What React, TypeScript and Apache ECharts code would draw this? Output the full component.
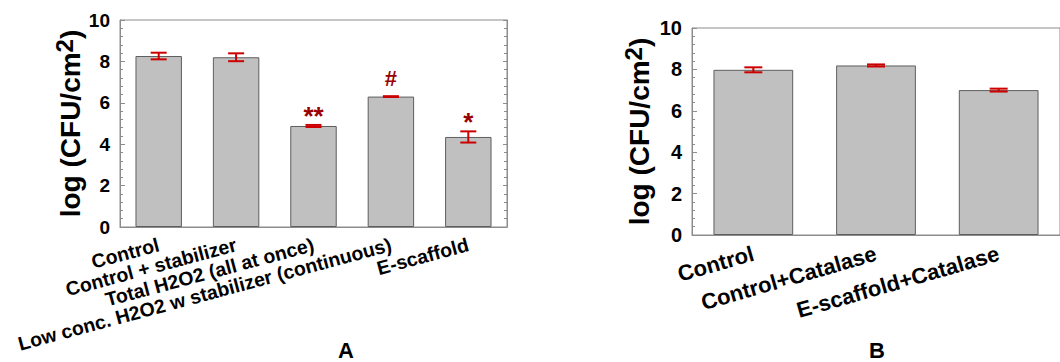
import React, { useEffect, useRef } from "react";
import * as echarts from "echarts";

const catsA = [
  "Control",
  "Control + stabilizer",
  "Total H2O2 (all at once)",
  "Low conc. H2O2 w stabilizer (continuous)",
  "E-scaffold",
];
const valsA = [8.26, 8.2, 4.88, 6.3, 4.35];
const errA = [0.16, 0.19, 0.05, 0.02, 0.27];
const marksA = ["", "", "**", "#", "*"];

const catsB = ["Control", "Control+Catalase", "E-scaffold+Catalase"];
const valsB = [7.98, 8.19, 7.0];
const errB = [0.12, 0.05, 0.07];
const marksB = ["", "", ""];

const yMin = 0;
const yMax = 10;
const yStep = 2;
const panelLetters = ["A", "B"];

const FONT = "'Liberation Sans', Arial, sans-serif";
const AXIS_GRAY = "#8c8c8c";
const BAR_FILL = "#c0c0c0";
const BAR_EDGE = "#5e5e5e";
const ERR_RED = "#cc0000";
const MARK_RED = "#9b0000";

function errSeries(xi: number, yi: number, vals: number[], errs: number[], marks: string[], capW: number, markSizes: Record<string, number>) {
  return {
    type: "custom",
    xAxisIndex: xi,
    yAxisIndex: yi,
    z: 10,
    data: vals.map((v, i) => [i, v, errs[i]]),
    renderItem: (params: any, api: any) => {
      const i = api.value(0);
      const v = api.value(1);
      const e = api.value(2);
      const top = api.coord([i, v + e]);
      const bot = api.coord([i, v - e]);
      const h = capW / 2;
      const st = { stroke: ERR_RED, lineWidth: 2 };
      const children: any[] = [
        { type: "line", shape: { x1: top[0], y1: top[1], x2: bot[0], y2: bot[1] }, style: st },
        { type: "line", shape: { x1: top[0] - h, y1: top[1], x2: top[0] + h, y2: top[1] }, style: st },
        { type: "line", shape: { x1: bot[0] - h, y1: bot[1], x2: bot[0] + h, y2: bot[1] }, style: st },
      ];
      const m = marks[params.dataIndex];
      if (m) {
        const fs = markSizes[m] || 22;
        children.push({
          type: "text",
          style: {
            text: m,
            x: top[0],
            y: top[1] - (m === "#" ? 7 : -4),
            align: "center",
            verticalAlign: "bottom",
            fill: MARK_RED,
            fontSize: fs,
            fontWeight: "bold",
            fontFamily: FONT,
          },
        });
      }
      return { type: "group", children };
    },
  };
}

function valueAxis(gridIndex: number, position: string, showLabel: boolean, labelSize: number, name: string, nameGap: number, nameSize: number) {
  return {
    type: "value",
    gridIndex,
    position,
    min: yMin,
    max: yMax,
    interval: yStep,
    name,
    nameLocation: "middle",
    nameGap,
    nameTextStyle: {
      rich: {
        a: { fontSize: nameSize, fontWeight: "bold", fontFamily: FONT, color: "#000" },
        s: { fontSize: nameSize - 4, fontWeight: "bold", fontFamily: FONT, color: "#000", padding: [0, 0, 12, 0] },
      },
    },
    axisLine: { show: true, lineStyle: { color: AXIS_GRAY, width: 1 } },
    axisTick: { show: true, inside: true, length: 5, lineStyle: { color: AXIS_GRAY } },
    minorTick: { show: true, splitNumber: 5, length: 3, lineStyle: { color: AXIS_GRAY } },
    splitLine: { show: false },
    axisLabel: {
      show: showLabel,
      fontSize: labelSize,
      fontWeight: "bold",
      fontFamily: FONT,
      color: "#000",
      margin: 10,
    },
  };
}

function catAxis(gridIndex: number, cats: string[], fontSize: number, margin: number, rotate: number) {
  return {
    type: "category",
    gridIndex,
    data: cats,
    axisLine: { show: true, lineStyle: { color: AXIS_GRAY, width: 1 } },
    axisTick: { show: false },
    axisLabel: {
      interval: 0,
      rotate,
      margin,
      fontSize,
      fontWeight: "bold",
      fontFamily: FONT,
      color: "#000",
    },
  };
}

export default function App() {
  const ref = useRef<HTMLDivElement>(null);
  useEffect(() => {
    if (!ref.current) return;
    const chart = echarts.init(ref.current, null, { renderer: "svg" });
    const yName = "{a|log (CFU/cm}{s|2}{a|)}";
    chart.setOption({
      animation: false,
      backgroundColor: "#fff",
      grid: [
        { left: 120, top: 20, width: 387, height: 207, show: true, borderColor: AXIS_GRAY, borderWidth: 1, backgroundColor: "transparent" },
        { left: 692, top: 28, width: 378, height: 207, show: true, borderColor: AXIS_GRAY, borderWidth: 1, backgroundColor: "transparent" },
      ],
      xAxis: [catAxis(0, catsA, 19.5, 17, 15), catAxis(1, catsB, 22, 18, 16)],
      yAxis: [
        valueAxis(0, "left", true, 19, yName, 20, 28),
        { ...valueAxis(0, "right", false, 19, "", 0, 28), axisTick: { show: true, inside: true, length: 4, lineStyle: { color: AXIS_GRAY } } },
        valueAxis(1, "left", true, 20, yName, 35, 28),
      ],
      series: [
        {
          type: "bar",
          xAxisIndex: 0,
          yAxisIndex: 0,
          data: valsA,
          barWidth: "60%",
          itemStyle: { color: BAR_FILL, borderColor: BAR_EDGE, borderWidth: 1 },
        },
        {
          type: "bar",
          xAxisIndex: 1,
          yAxisIndex: 2,
          data: valsB,
          barWidth: "65%",
          itemStyle: { color: BAR_FILL, borderColor: BAR_EDGE, borderWidth: 1 },
        },
        errSeries(0, 0, valsA, errA, marksA, 16, { "**": 26, "#": 22, "*": 26 }),
        errSeries(1, 2, valsB, errB, marksB, 18, {}),
      ],
      graphic: [
        { type: "text", left: 338, top: 339, style: { text: panelLetters[0], fontSize: 22, fontWeight: "bold", fontFamily: FONT, fill: "#000" } },
        { type: "text", left: 869, top: 339, style: { text: panelLetters[1], fontSize: 22, fontWeight: "bold", fontFamily: FONT, fill: "#000" } },
      ],
    });
    return () => chart.dispose();
  }, []);
  return <div ref={ref} style={{ position: "fixed", left: 0, top: 0, width: 1060, height: 362 }} />;
}
